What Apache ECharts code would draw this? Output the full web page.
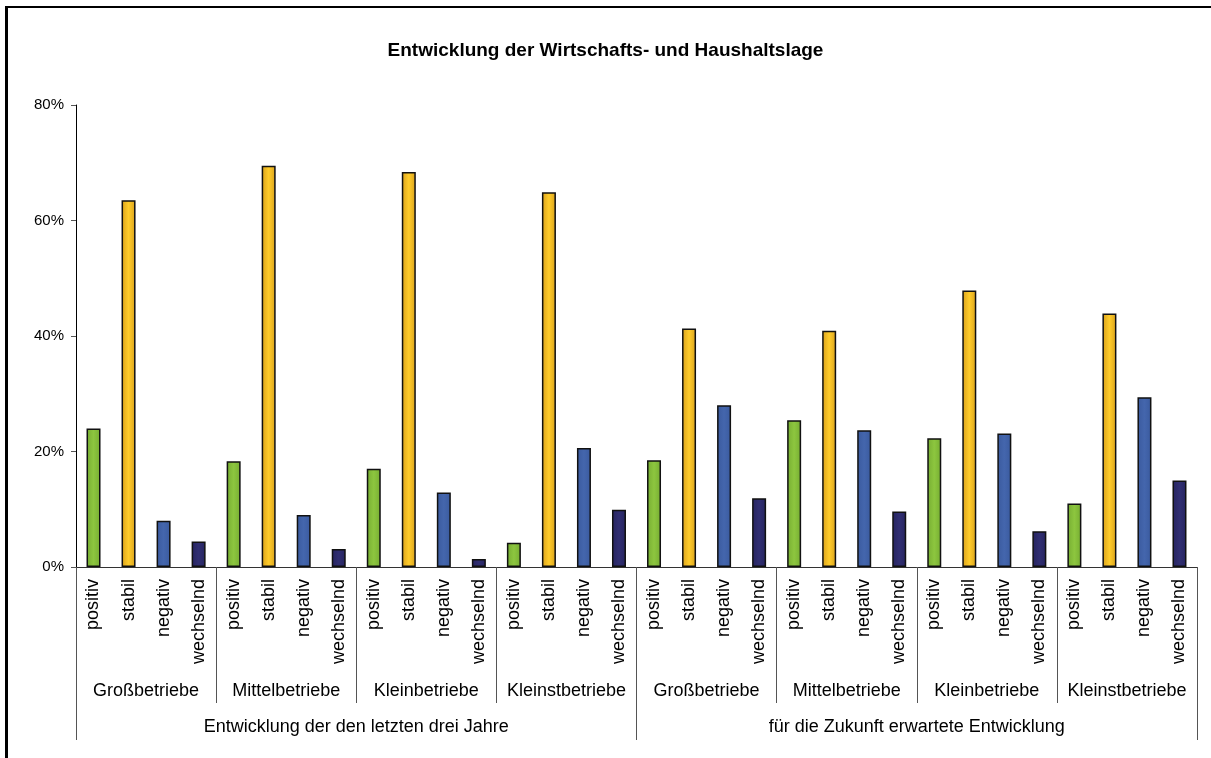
<!DOCTYPE html>
<html>
<head>
<meta charset="utf-8">
<script src="https://cdn.jsdelivr.net/npm/echarts@6/dist/echarts.min.js"></script>
<style>
  html, body { margin: 0; padding: 0; background: #fff; overflow: hidden; }
  #chart { position: absolute; left: 0; top: 0; width: 1211px; height: 758px; }
  #frame {
    position: absolute; left: 5px; top: 6px; width: 1300px; height: 900px;
    border-left: 3px solid #000; border-top: 2px solid #000;
    pointer-events: none;
  }
</style>
</head>
<body>
<div id="chart"></div>
<div id="frame"></div>
<script>
  // Antwortkategorien, Betriebsgrößen, Zeiträume
  var typen = ['positiv', 'stabil', 'negativ', 'wechselnd'];
  var betriebe = ['Großbetriebe', 'Mittelbetriebe', 'Kleinbetriebe', 'Kleinstbetriebe'];
  var zeitraeume = ['Entwicklung der den letzten drei Jahre', 'für die Zukunft erwartete Entwicklung'];

  // Werte in % (je Betriebsgröße: positiv, stabil, negativ, wechselnd)
  var letzteJahre = [
    24.0, 63.5, 8.0, 4.4,
    18.3, 69.5, 9.0, 3.1,
    17.0, 68.4, 12.9, 1.4,
    4.2, 64.9, 20.6, 9.9
  ];
  var zukunft = [
    18.5, 41.3, 28.0, 11.9,
    25.4, 40.9, 23.7, 9.6,
    22.3, 47.9, 23.1, 6.2,
    11.0, 43.9, 29.4, 15.0
  ];

  var werte = letzteJahre.concat(zukunft);
  var kategorien = [];
  var gruppen = [];
  zeitraeume.forEach(function () {
    betriebe.forEach(function (b) {
      gruppen.push(b);
      typen.forEach(function (t) { kategorien.push(t); });
    });
  });

  function verlauf(rand, mitte) {
    return new echarts.graphic.LinearGradient(0, 0, 1, 0, [
      { offset: 0, color: rand },
      { offset: 0.5, color: mitte },
      { offset: 1, color: rand }
    ]);
  }
  var farben = [
    verlauf('#76ad32', '#8dc63f'),
    verlauf('#d9a11c', '#ffcc2a'),
    verlauf('#3a5a9e', '#4466ad'),
    verlauf('#26245f', '#302e72')
  ];

  var font = "'Liberation Sans', Arial, sans-serif";
  var chart = echarts.init(document.getElementById('chart'));
  chart.setOption({
    animation: false,
    title: {
      text: 'Entwicklung der Wirtschafts- und Haushaltslage',
      left: 'center',
      top: 36,
      textStyle: { fontFamily: font, fontSize: 19, fontWeight: 'bold', color: '#000' }
    },
    grid: { left: 76, right: 14, top: 105, bottom: 191, containLabel: false },
    xAxis: [
      {
        type: 'category',
        data: kategorien,
        position: 'bottom',
        axisLine: { show: true, lineStyle: { color: '#333', width: 1 } },
        axisTick: { show: false },
        axisLabel: {
          interval: 0, rotate: 90, margin: 12,
          fontFamily: font, fontSize: 18, color: '#000'
        }
      },
      {
        type: 'category',
        data: gruppen,
        position: 'bottom',
        axisLine: { show: false },
        axisTick: { show: true, interval: 0, length: 136, lineStyle: { color: '#555', width: 1 } },
        axisLabel: { interval: 0, margin: 115, fontFamily: font, fontSize: 18, color: '#000' }
      },
      {
        type: 'category',
        data: zeitraeume,
        position: 'bottom',
        axisLine: { show: false },
        axisTick: { show: true, interval: 0, length: 173, lineStyle: { color: '#555', width: 1 } },
        axisLabel: { interval: 0, margin: 151, fontFamily: font, fontSize: 18, color: '#000' }
      }
    ],
    yAxis: {
      type: 'value',
      min: 0,
      max: 80,
      interval: 20,
      splitLine: { show: false },
      axisLine: { show: true, lineStyle: { color: '#000', width: 1 } },
      axisTick: { show: true, length: 5, lineStyle: { color: '#555' } },
      axisLabel: { formatter: '{value}%', margin: 12, fontFamily: font, fontSize: 15, color: '#000' }
    },
    series: [
      {
        type: 'bar',
        xAxisIndex: 0,
        data: werte,
        barWidth: 14,
        itemStyle: {
          color: function (p) { return farben[p.dataIndex % 4]; },
          borderColor: '#111',
          borderWidth: 1.5
        }
      }
    ]
  });
</script>
</body>
</html>
